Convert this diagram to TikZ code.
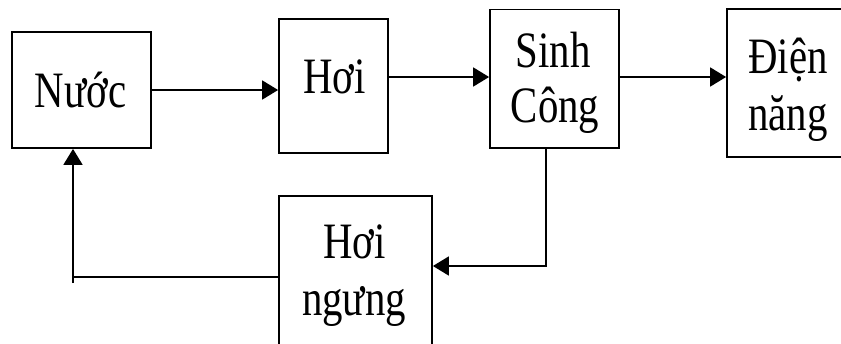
\documentclass[tikz,border=0pt]{standalone}
\usepackage{fontspec}
\setmainfont{Liberation Serif}[FakeStretch=0.8]
\usetikzlibrary{arrows.meta}
\begin{document}
\begin{tikzpicture}[x=1pt,y=-1pt,
  box/.style={draw,line width=1.8pt,rectangle,inner sep=0pt},
  word/.style={anchor=base,inner sep=0pt,font=\fontsize{51pt}{57pt}\selectfont},
  conn/.style={line width=1.8pt},
  arr/.style={conn,-{Triangle[length=16pt,width=19pt]}}]
\clip (0,0) rectangle (841,343);
\fill[white] (0,0) rectangle (841,343);

% blocks
\node[box,minimum width=139pt,minimum height=116pt] (nuoc) at (81.5,90) {};
\node[box,minimum width=109pt,minimum height=134pt] (hoi) at (333.5,86) {};
\node[box,minimum width=129pt,minimum height=138.5pt] (sinh) at (554.5,78.75) {};
\node[box,minimum width=122pt,minimum height=148pt] (dien) at (788,83) {};
\node[box,minimum width=153pt,minimum height=152pt] (ngung) at (355.5,272) {};

% labels
\node[word] at (80.5,107) {Nước};
\node[word] at (334.5,93) {Hơi};
\node[word] at (553,67) {Sinh};
\node[word] at (555,122) {Công};
\node[word] at (788,73) {Điện};
\node[word] at (788,130) {năng};
\node[word] at (354.5,258) {Hơi};
\node[word] at (354,315) {ngưng};

% forward chain
\coordinate (r1) at (0,77);
\draw[arr] (nuoc.east) -- (nuoc.east -| hoi.west);
\draw[arr] (hoi.east |- r1) -- (sinh.west |- r1);
\draw[arr] (sinh.east |- r1) -- (dien.west |- r1);

% condensate loop
\coordinate (c2) at (546,266);
\draw[arr] (sinh.south -| c2) -- (c2) -- (ngung.east |- c2);
\coordinate (c1) at (73,277);
\coordinate (c1tail) at (73,283);
\draw[conn] (ngung.west |- c1) -- (c1);
\draw[arr] (c1tail) -- (c1tail |- nuoc.south);
\end{tikzpicture}
\end{document}
